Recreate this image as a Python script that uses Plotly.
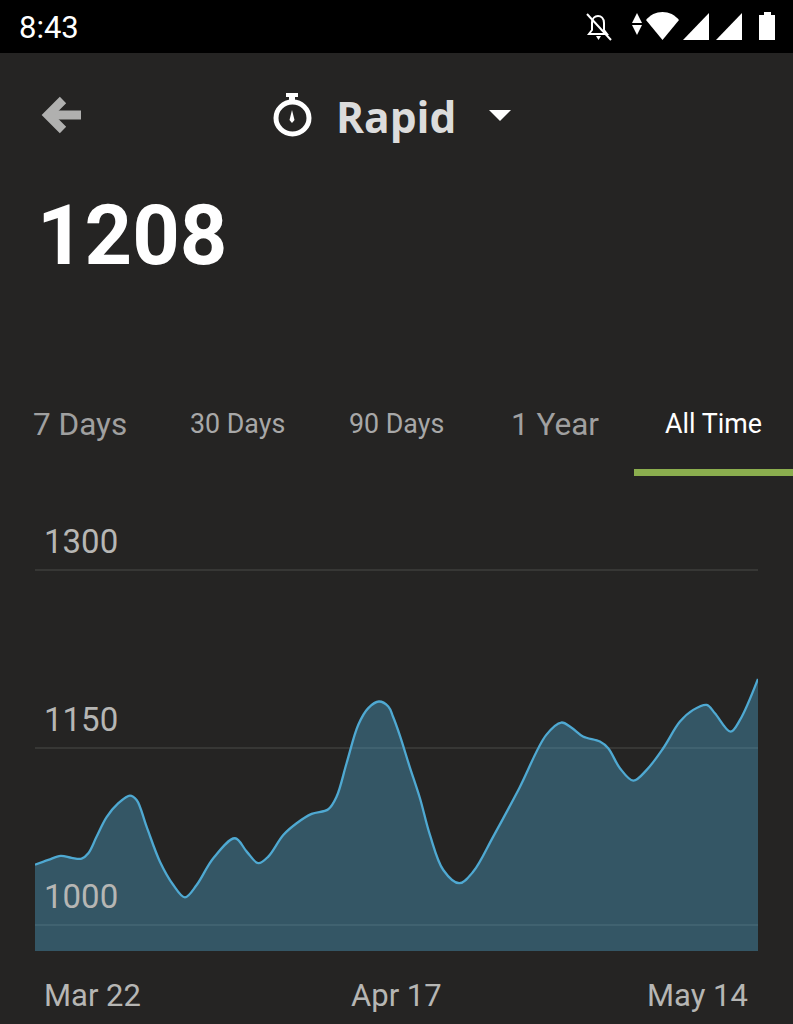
import plotly.graph_objects as go

# Rating history: days since Mar 22 and the rating on that day
days = [0.0, 0.98, 1.88, 2.69, 3.42, 3.91, 4.52, 5.25, 6.11, 6.96, 7.45, 8.18, 9.16, 10.14,
        10.99, 11.85, 13.07, 14.66, 15.52, 16.37, 17.10, 18.20, 19.18, 20.28,
        21.50, 22.11, 22.84, 23.70, 24.43, 25.21, 25.90, 26.24, 26.73, 27.46, 28.22, 28.95,
        29.93, 31.10, 32.13, 33.59, 35.50, 37.48, 38.58, 39.31, 40.17, 41.41, 42.02,
        42.88, 43.86, 44.84, 46.05, 47.28, 48.25, 49.24, 49.84, 50.99, 51.68, 53.0]
ratings = [1051.0, 1055.0, 1058.4, 1056.7, 1056.1, 1060.6, 1074.7, 1091.1, 1102.9, 1109.4,
           1105.7, 1083.1, 1053.5, 1033.8, 1023.4, 1033.8, 1056.4, 1073.3, 1062.0, 1052.2,
           1057.8, 1076.1, 1086.0, 1093.9, 1097.8, 1108.5, 1136.7, 1169.2,
           1183.3, 1188.9, 1184.7, 1176.2, 1160.7, 1133.9, 1107.1, 1076.1, 1046.5, 1035.3,
           1045.1, 1074.7, 1115.6, 1160.7, 1171.1, 1166.9, 1159.3, 1155.0, 1149.4,
           1132.5, 1122.0, 1131.1, 1149.4, 1171.9, 1181.8, 1186.0, 1179.0, 1163.4, 1173.3,
           1208.0]
rating_ticks = [1000, 1150, 1300]
date_labels = ["Mar 22", "Apr 17", "May 14"]
tab_labels = ["7 Days", "30 Days", "90 Days", "1 Year", "All Time"]
current_rating = "1208"
mode_name = "Rapid"
clock = "8:43"

W, H = 793, 1024
BG = "#252423"
GREY = "#b6b6b4"


def px(x):
    return x / W


def py(y):
    return 1 - y / H


def path(*parts):
    """Build an SVG path from commands and (x, y) screen positions."""
    out = []
    for p in parts:
        if isinstance(p, str):
            out.append(p)
        else:
            out.append(f"{px(p[0]):.5f},{py(p[1]):.5f}")
    return " ".join(out)


def filled(d, color):
    return dict(type="path", xref="paper", yref="paper", path=d, fillcolor=color,
                line=dict(width=0), layer="above")


def stroked(d, color, width):
    return dict(type="path", xref="paper", yref="paper", path=d, line=dict(color=color, width=width),
                layer="above")


def box(x0, y0, x1, y1, color):
    return dict(type="rect", xref="paper", yref="paper", x0=px(x0), x1=px(x1), y0=py(y1), y1=py(y0),
                fillcolor=color, line=dict(width=0), layer="below")


def label(text, x, y, size, color, anchor="left", family="Roboto"):
    return dict(text=text, xref="paper", yref="paper", x=px(x), y=py(y), xanchor=anchor, yanchor="middle",
                showarrow=False, borderpad=0, font=dict(family=family, size=size, color=color))


fig = go.Figure(go.Scatter(
    x=days, y=ratings, mode="lines",
    line=dict(color="#4fa9d2", width=2.3, shape="spline", smoothing=1),
    fill="tozeroy", fillcolor="rgba(79,169,210,0.38)", hoverinfo="skip",
))

shapes = [
    box(0, 0, W, 53, "#000000"),
    box(634, 469, W, 476, "#8bae4e"),
    # back arrow
    stroked(path("M", (81, 115), "L", (50, 115)), "#b0b0af", 9),
    stroked(path("M", (63, 100), "L", (48, 115), "L", (63, 130)), "#b0b0af", 9),
    # stopwatch
    dict(type="circle", xref="paper", yref="paper", x0=px(276), x1=px(309), y0=py(134), y1=py(102),
         line=dict(color="#ffffff", width=5), layer="above"),
    filled(path("M", (286, 93), "L", (298, 93), "L", (298, 97), "L", (295, 97), "L", (295, 101), "L", (289, 101),
                "L", (289, 97), "L", (286, 97), "Z"), "#ffffff"),
    filled(path("M", (292, 110), "L", (294.5, 120), "L", (292, 123), "L", (289.5, 120), "Z"), "#ffffff"),
    # mode dropdown caret
    filled(path("M", (489, 110), "L", (511, 110), "L", (500, 121), "Z"), "#ffffff"),
    # muted bell
    stroked(path("M", (589, 34), "L", (607, 34), "L", (604, 30), "L", (604, 23), "C", (604, 18), (601, 16), (598, 16),
                 "C", (595, 16), (592, 18), (592, 23), "L", (592, 30), "Z"), "#ffffff", 2),
    stroked(path("M", (587, 14), "L", (611, 40)), "#ffffff", 2),
    filled(path("M", (596, 36), "L", (601, 36), "L", (598.5, 40), "Z"), "#ffffff"),
    # data activity arrows
    filled(path("M", (637, 13), "L", (642, 23), "L", (632, 23), "Z"), "#ffffff"),
    filled(path("M", (632, 25), "L", (642, 25), "L", (637, 35), "Z"), "#ffffff"),
    # wifi
    filled(path("M", (662.5, 40), "L", (646, 20), "C", (650, 15), (656, 12), (662.5, 12),
                "C", (669, 12), (675, 15), (679, 20), "Z"), "#ffffff"),
    # signal bars
    filled(path("M", (683, 40), "L", (709, 40), "L", (709, 13), "Z"), "#ffffff"),
    filled(path("M", (716, 40), "L", (742, 40), "L", (742, 13), "Z"), "#ffffff"),
    # battery
    filled(path("M", (764, 12), "L", (771, 12), "L", (771, 15), "L", (775, 15), "L", (775, 40), "L", (759, 40),
                "L", (759, 15), "L", (764, 15), "Z"), "#ffffff"),
]

tab_styles = [(79.5, 31.5, "#a0a0a0"), (237.5, 26.8, "#a8a8a8"), (396, 26.8, "#a8a8a8"),
              (555, 31.5, "#a0a0a0"), (713.5, 26.8, "#ffffff")]
annotations = [
    label(clock, 18, 27, 31, "#ffffff"),
    label(f"<b>{mode_name}</b>", 335, 116, 42.5, "#dcdcdc", family="Open Sans"),
    label(f"<b>{current_rating}</b>", 36, 235, 83, "#ffffff"),
]
for text, (cx, size, color) in zip(tab_labels, tab_styles):
    annotations.append(label(text, cx, 424, size, color, anchor="center"))
for tick, y in zip(rating_ticks, (896, 719, 541)):
    annotations.append(label(str(tick), 43, y, 33, GREY))
annotations.append(label(date_labels[0], 43, 995, 31, GREY))
annotations.append(label(date_labels[1], 396, 995, 31, GREY, anchor="center"))
annotations.append(label(date_labels[2], 749, 995, 31, GREY, anchor="right"))

fig.update_layout(
    width=W, height=H, autosize=False,
    margin=dict(l=0, r=0, t=0, b=0),
    paper_bgcolor=BG, plot_bgcolor=BG,
    showlegend=False, shapes=shapes, annotations=annotations,
    xaxis=dict(domain=[35 / W, 758 / W], range=[0, 53], showgrid=False, zeroline=False,
               showticklabels=False, ticks="", showline=False),
    yaxis=dict(domain=[1 - 951 / H, 1 - 500 / H], range=[978, 1359.2], tickvals=rating_ticks,
               showticklabels=False, ticks="", showline=False, zeroline=False,
               gridcolor="#373735", gridwidth=2),
)

fig.write_html("out.html", config=dict(displayModeBar=False))
